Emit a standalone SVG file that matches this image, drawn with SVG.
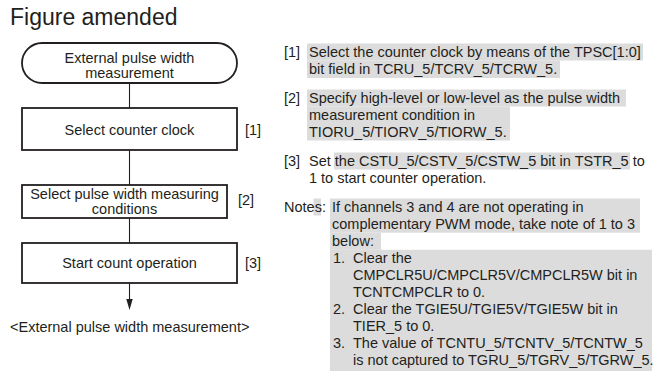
<svg xmlns="http://www.w3.org/2000/svg" width="659" height="377" viewBox="0 0 659 377">
<defs>
<style>
text{font-family:"Liberation Sans",Arial,Helvetica,sans-serif;fill:#231f20;font-size:14.5px}
.title{font-size:23px}
.c{text-anchor:middle}
.box{fill:#fff;stroke:#231f20;stroke-width:1.8}
.hl{fill:#dcdcdc;stroke:none}
.conn{stroke:#231f20;stroke-width:1.1;fill:none}
</style>
</defs>
<rect width="659" height="377" fill="#fff"/>
<text class="title" x="10" y="25">Figure amended</text>

<g id="connectors">
<line class="conn" x1="129.5" y1="83" x2="129.5" y2="108"/>
<line class="conn" x1="129.5" y1="150" x2="129.5" y2="185"/>
<line class="conn" x1="129.5" y1="218" x2="129.5" y2="243"/>
<line class="conn" x1="129.5" y1="283" x2="129.5" y2="300"/>
<polygon points="126.3,299 132.7,299 129.5,310" fill="#231f20"/>
</g>

<g id="node-start">
<rect class="box" x="22" y="43" width="215" height="40" rx="20" ry="20"/>
<text class="c" x="129.5" y="63">External pulse width</text>
<text class="c" x="129.5" y="78">measurement</text>
</g>

<g id="node-step1">
<rect class="box" x="22" y="108" width="215" height="42"/>
<text class="c" x="129.5" y="134.5">Select counter clock</text>
<text x="245" y="134.5">[1]</text>
</g>

<g id="node-step2">
<rect class="box" x="22" y="185" width="205" height="33"/>
<text class="c" x="124.5" y="199">Select pulse width measuring</text>
<text class="c" x="124.5" y="213.5">conditions</text>
<text x="238" y="205">[2]</text>
</g>

<g id="node-step3">
<rect class="box" x="22" y="243" width="215" height="40"/>
<text class="c" x="129.5" y="268">Start count operation</text>
<text x="245" y="268">[3]</text>
</g>

<g id="caption">
<text x="10" y="332">&lt;External pulse width measurement&gt;</text>
</g>

<g id="highlights">
<rect class="hl" x="307" y="43.5" width="336" height="17"/>
<rect class="hl" x="307" y="60.5" width="253" height="17.5"/>
<rect class="hl" x="307" y="89.5" width="319" height="17"/>
<rect class="hl" x="307" y="106.5" width="203" height="34"/>
<rect class="hl" x="334" y="152.5" width="296" height="17"/>
<rect class="hl" x="313.5" y="198.5" width="7.5" height="17"/>
<rect class="hl" x="330" y="198.5" width="310" height="34.2"/>
<rect class="hl" x="330" y="232.7" width="51" height="17.1"/>
<rect class="hl" x="330" y="249.8" width="322" height="121.2"/>
</g>

<g id="notes">
<text x="284" y="56.5">[1]</text>
<text x="309" y="56.5">Select the counter clock by means of the TPSC[1:0]</text>
<text x="309" y="73.5">bit field in TCRU_5/TCRV_5/TCRW_5.</text>

<text x="284" y="102.5">[2]</text>
<text x="309" y="102.5">Specify high-level or low-level as the pulse width</text>
<text x="309" y="119.5">measurement condition in</text>
<text x="309" y="136.5">TIORU_5/TIORV_5/TIORW_5.</text>

<text x="284" y="165.5">[3]</text>
<text x="309" y="165.5">Set the CSTU_5/CSTV_5/CSTW_5 bit in TSTR_5 to</text>
<text x="309" y="182.5">1 to start counter operation.</text>

<text x="284" y="211.5">Notes:</text>
<text x="332" y="211.5">If channels 3 and 4 are not operating in</text>
<text x="332" y="228.6">complementary PWM mode, take note of 1 to 3</text>
<text x="332" y="245.7">below:</text>
<text x="333" y="262.8">1.</text>
<text x="353" y="262.8">Clear the</text>
<text x="353" y="279.9">CMPCLR5U/CMPCLR5V/CMPCLR5W bit in</text>
<text x="353" y="297">TCNTCMPCLR to 0.</text>
<text x="333" y="314.1">2.</text>
<text x="353" y="314.1">Clear the TGIE5U/TGIE5V/TGIE5W bit in</text>
<text x="353" y="331.2">TIER_5 to 0.</text>
<text x="333" y="348.3">3.</text>
<text x="353" y="348.3">The value of TCNTU_5/TCNTV_5/TCNTW_5</text>
<text x="353" y="365.4">is not captured to TGRU_5/TGRV_5/TGRW_5.</text>
</g>
</svg>
